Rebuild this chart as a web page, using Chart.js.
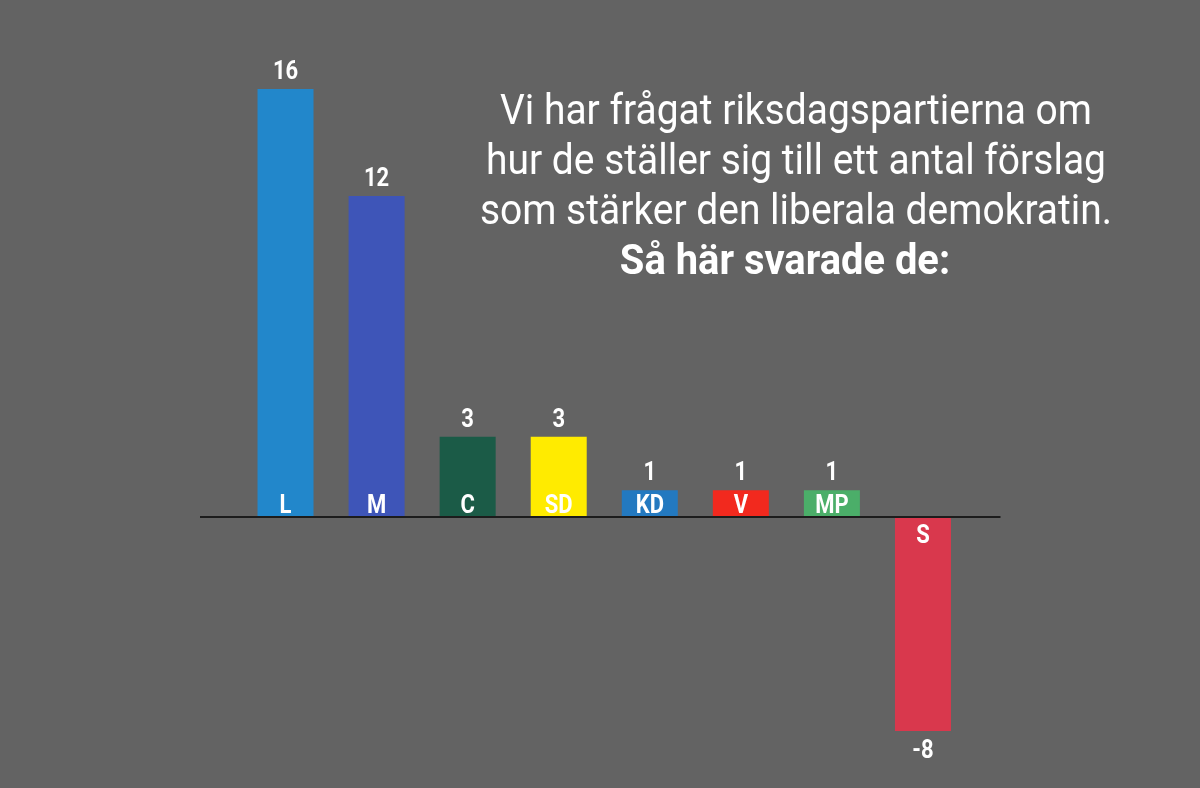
<!DOCTYPE html>
<html>
<head>
<meta charset="utf-8">
<script src="https://cdn.jsdelivr.net/npm/chart.js@4"></script>
<style>
  html, body { margin: 0; padding: 0; background: #636363; }
  canvas { display: block; }
</style>
</head>
<body>
<canvas id="chart" width="1200" height="788"></canvas>
<script>
// data
const parties = ['L', 'M', 'C', 'SD', 'KD', 'V', 'MP', 'S'];
const answers = [16, 12, 3, 3, 1, 1, 1, -8];
const partyColors = ['#2287cb', '#3e55b8', '#1b5b47', '#ffeb00', '#2379c0', '#f2291e', '#4bae69', '#d9384d'];
const titleLines = [
  'Vi har frågat riksdagspartierna om',
  'hur de ställer sig till ett antal förslag',
  'som stärker den liberala demokratin.'
];
const titleBold = 'Så här svarade de:';

const bg = '#636363';

// background + zero line + labels + text block
const decorations = {
  id: 'decorations',
  beforeDraw(chart) {
    const ctx = chart.ctx;
    ctx.save();
    ctx.fillStyle = bg;
    ctx.fillRect(0, 0, chart.width, chart.height);
    ctx.restore();
  },
  afterDatasetsDraw(chart) {
    const ctx = chart.ctx;
    const y0 = chart.scales.y.getPixelForValue(0);
    const area = chart.chartArea;

    // zero line, wider than the bars
    ctx.save();
    ctx.strokeStyle = '#1c1c1c';
    ctx.lineWidth = 2;
    ctx.beginPath();
    ctx.moveTo(area.left - 40, y0);
    ctx.lineTo(area.right + 32, y0);
    ctx.stroke();

    const meta = chart.getDatasetMeta(0);
    ctx.fillStyle = '#ffffff';
    ctx.textAlign = 'center';
    ctx.textBaseline = 'alphabetic';
    ctx.font = 'bold 25px Roboto';
    meta.data.forEach((bar, i) => {
      const v = answers[i];
      ctx.save();
      ctx.translate(bar.x, 0);
      ctx.scale(0.88, 1);
      if (v >= 0) {
        ctx.fillText(String(v), 0, bar.y - 10);
        ctx.fillText(parties[i], 0, y0 - 4);
      } else {
        ctx.fillText(String(v), 0, bar.y + 27);
        ctx.fillText(parties[i], 0, y0 + 26);
      }
      ctx.restore();
    });

    // text block
    const cx = 796;
    ctx.font = '42px Roboto';
    const sx = 592 / ctx.measureText(titleLines[0]).width;
    titleLines.forEach((line, i) => {
      ctx.save();
      ctx.translate(cx, 124 + i * 50);
      ctx.scale(sx, 1);
      ctx.fillText(line, 0, 0);
      ctx.restore();
    });
    ctx.font = 'bold 43px Roboto';
    ctx.save();
    ctx.translate(cx - 11, 274);
    ctx.scale(sx, 1);
    ctx.fillText(titleBold, 0, 0);
    ctx.restore();

    ctx.restore();
  }
};

new Chart(document.getElementById('chart'), {
  type: 'bar',
  data: {
    labels: parties,
    datasets: [{
      data: answers,
      backgroundColor: partyColors,
      borderWidth: 0,
      categoryPercentage: 1,
      barPercentage: 0.615
    }]
  },
  options: {
    responsive: false,
    animation: false,
    layout: { padding: { left: 240, right: 231.5, top: 89, bottom: 57 } },
    plugins: {
      legend: { display: false },
      tooltip: { enabled: false },
      title: { display: false }
    },
    scales: {
      x: { display: false },
      y: { display: false, min: -8, max: 16 }
    }
  },
  plugins: [decorations]
});
</script>
</body>
</html>
